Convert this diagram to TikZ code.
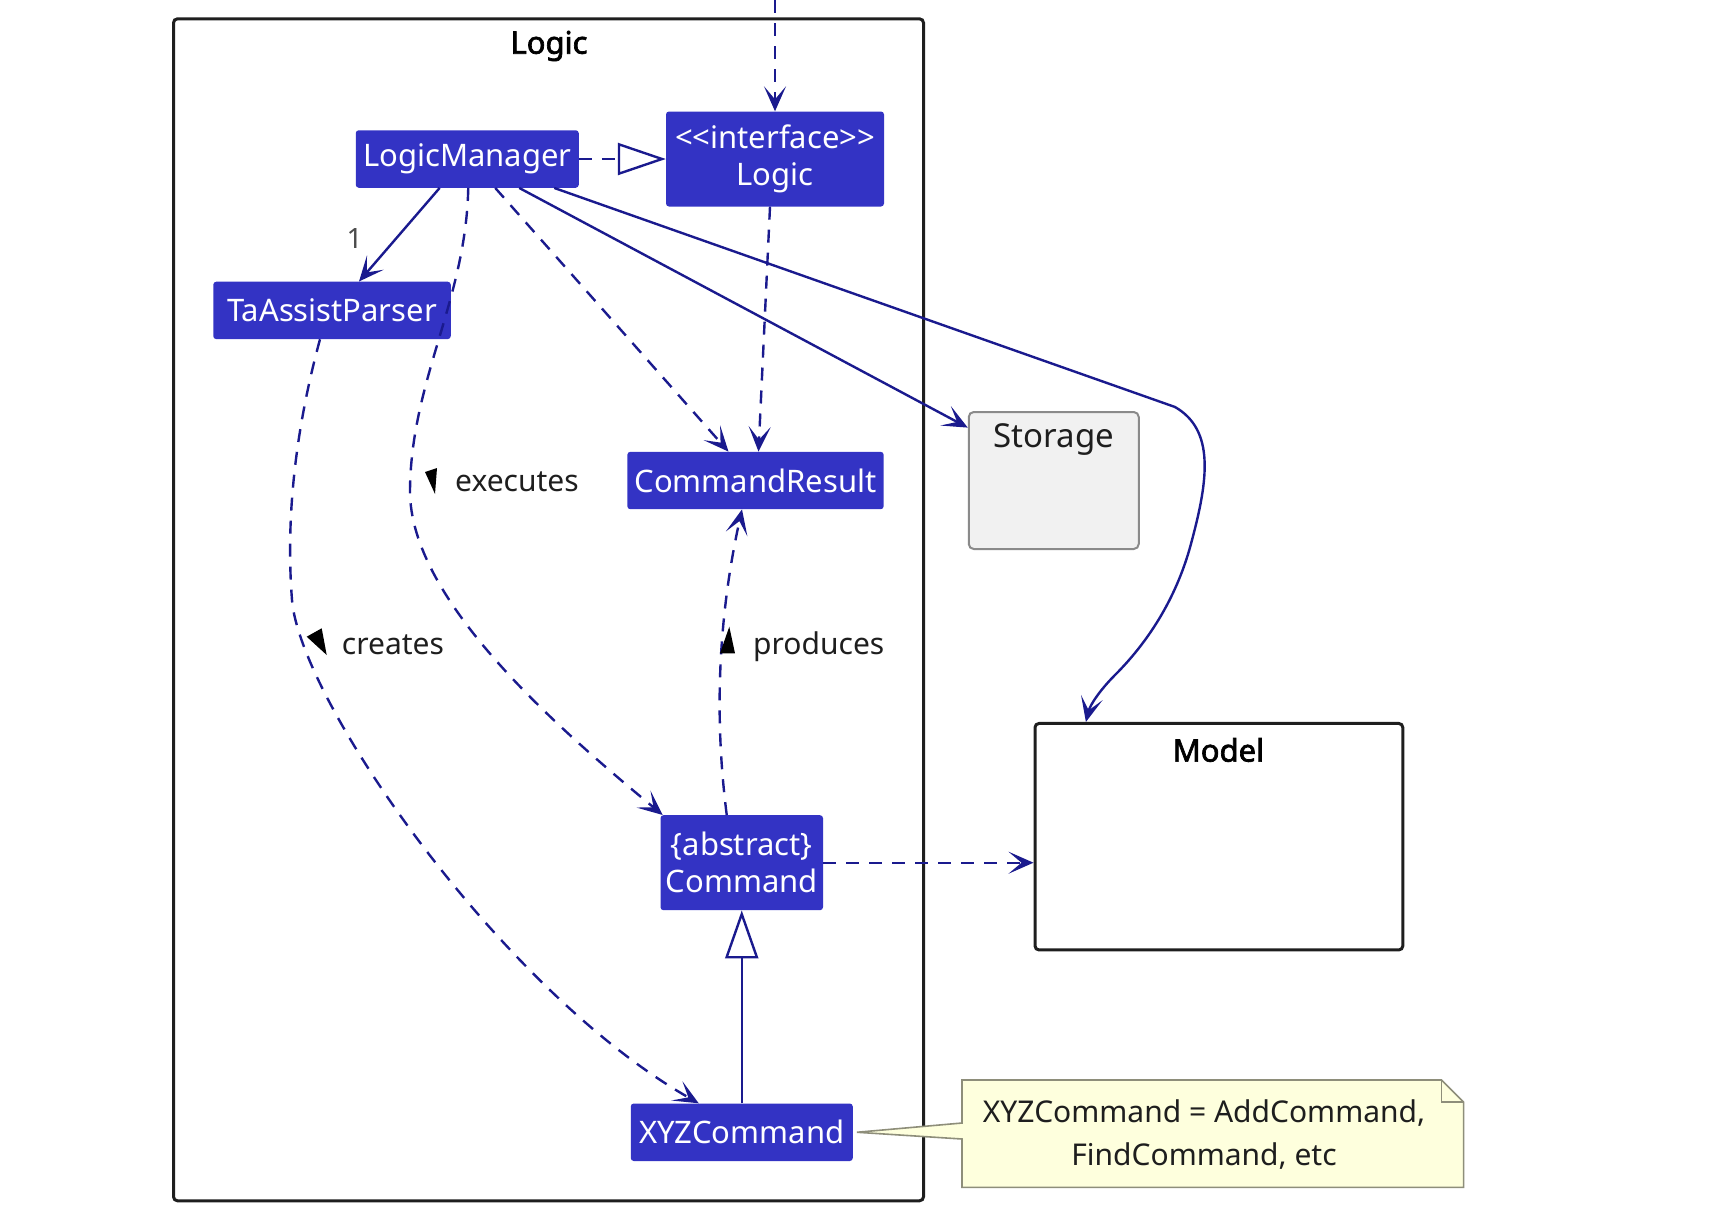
\documentclass[tikz,border=0pt]{standalone}
\usepackage{fontspec}
\setmainfont{Noto Sans}
\newfontfamily\ttlfont{Noto Sans}[FakeBold=2.2]
\usetikzlibrary{arrows.meta,calc}
\definecolor{boxc}{HTML}{3333C4}
\definecolor{arr}{HTML}{1A1A8E}
\definecolor{notef}{HTML}{FEFFDD}
\definecolor{noted}{HTML}{8E8E7A}
\definecolor{storf}{HTML}{F1F1F1}
\definecolor{stord}{HTML}{8A8A8A}
\definecolor{txt}{HTML}{1E1E1E}
\begin{document}
\begin{tikzpicture}[x=1pt,y=-1pt,
  cls/.style={fill=boxc, draw=none, rounded corners=3pt, text=white,
    font=\fontsize{31}{37}\selectfont, align=center, inner sep=0pt},
  pkg/.style={draw=txt, line width=3pt, rounded corners=4pt, inner sep=0pt},
  ttl/.style={font=\ttlfont\fontsize{31}{37}\selectfont, text=black, inner sep=0pt},
  lbl/.style={font=\fontsize{30}{36}\selectfont, text=txt, inner sep=0pt, anchor=west},
  head/.style={-{Stealth[length=25pt,width=22pt,inset=13pt]}},
  assoc/.style={draw=arr, line width=2.4pt, head},
  dep/.style={draw=arr, line width=2.4pt, dash pattern=on 13pt off 10pt, head},
  tri/.style={fill=black, draw=none},
]
\path[use as bounding box] (0,0) rectangle (1732,1208);

% packages
\node[pkg, minimum width=750pt, minimum height=1182pt] (logicpkg) at (548.5,609.8) {};
\node[ttl] (logicttl) at (549,46) {Logic};
\node[pkg, minimum width=367.8pt, minimum height=226.5pt] (model) at (1218.9,836.7) {};
\node[ttl] (modelttl) at (1218.4,750) {Model};

% classes
\node[cls, minimum width=223pt, minimum height=57.5pt] (lm) at (467.25,159) {LogicManager};
\node[cls, minimum width=218pt, minimum height=95pt] (logic) at (775,159) {<\kern0pt<interface>\kern0pt>\\Logic};
\node[cls, minimum width=237.5pt, minimum height=57.4pt] (ta) at (332,310.4) {TaAssistParser};
\node[cls, minimum width=256.3pt, minimum height=57.4pt] (cr) at (755.5,480.5) {CommandResult};
\node[cls, minimum width=162.5pt, minimum height=95pt] (cmd) at (741.75,862.7) {\{abstract\}\\Command};
\node[cls, minimum width=222pt, minimum height=57.5pt] (xyz) at (741.75,1132.25) {XYZCommand};

% storage
\node[fill=storf, draw=stord, line width=2pt, rounded corners=5pt,
  minimum width=170pt, minimum height=137pt, inner sep=0pt] (stor) at (1053.75,480.5) {};
\node[font=\fontsize{33}{38}\selectfont, text=txt, inner sep=0pt] (stortxt) at (1053.75,439.6) {Storage};

% note
\coordinate (ntip) at (xyz.east);
\draw[fill=notef, draw=noted, line width=1.6pt, line join=miter]
  (962,1080) -- (1441.6,1080) -- (1463.6,1102) -- (1463.6,1187.4) -- (962,1187.4)
  -- (962,1139) -- ([xshift=4pt]ntip) -- (962,1123) -- cycle;
\draw[draw=noted, line width=1.6pt] (1441.6,1080) -- (1441.6,1102) -- (1463.6,1102);
\node[font=\fontsize{30}{43}\selectfont, text=txt, align=center, inner sep=0pt] (note) at (1204,1135)
  {XYZCommand = AddCommand,\\FindCommand, etc};

% connectors
\coordinate (topin) at (775,0);
\draw[dep] (topin) -- (logic.north);

\draw[draw=arr, line width=2.4pt, dash pattern=on 13pt off 10pt,
  -{Triangle[open, fill=white, length=48pt, width=32pt]}] (lm.east) -- (logic.west);

\draw[assoc] ([xshift=-27.6pt]lm.south) -- ([xshift=27pt]ta.north);
\node[font=\fontsize{28}{32}\selectfont, text=txt!80, inner sep=0pt] (one) at (354.6,238.6) {1};

% creates
\draw[dep] ([xshift=-12pt]ta.south) .. controls (298,420) and (285,510) .. (292,600)
  .. controls (300,700) and (500,990) .. ([xshift=-43pt]xyz.north);
\fill[tri] (306.7,636.7) -- (321.7,628.3) -- (326.7,655) -- cycle;
\node[lbl] (creates) at (341.7,645) {creates};

% executes
\draw[dep] ([xshift=1pt]lm.south) .. controls (466,300) and (411,380) .. (410,490)
  .. controls (409,600) and (560,730) .. ([xshift=-79pt]cmd.north);
\fill[tri] (425,472) -- (437,468) -- (435,494) -- cycle;
\node[lbl] (executes) at (455,482) {executes};

% LogicManager -> CommandResult
\draw[dep] ([xshift=28pt]lm.south) -- ([xshift=-27pt]cr.north);
% Logic -> CommandResult
\draw[dep] ([xshift=-5pt]logic.south) -- ([xshift=3pt]cr.north);

% LogicManager -> Storage
\draw[assoc] ([xshift=52pt]lm.south) -- ([yshift=-16.6pt]stor.north west);

% LogicManager -> Model
\draw[assoc] ([xshift=87pt]lm.south) -- (1175,407)
  .. controls (1215,430) and (1208,480) .. (1192,540)
  .. controls (1178,595) and (1150,640) .. (1115,675)
  .. controls (1100,690) and (1090,705) .. ([xshift=-133pt]model.north);

% produces
\draw[dep] ([xshift=-15pt]cmd.north) .. controls (712,700) and (722,600) .. ([xshift=-13.5pt]cr.south);
\fill[tri] (720,653.3) -- (729.3,626.7) -- (735,653.3) -- cycle;
\node[lbl] (produces) at (753,647) {produces};

% Command -> Model
\draw[dep] (cmd.east) -- (cmd.east -| model.west);

% XYZCommand --|> Command
\draw[draw=arr, line width=2.4pt, -{Triangle[open, fill=white, length=48pt, width=33pt]}]
  (xyz.north) -- (cmd.south);
\end{tikzpicture}
\end{document}
